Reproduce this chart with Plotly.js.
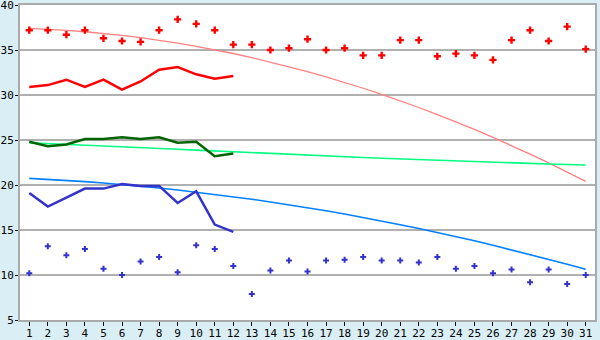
<!DOCTYPE html>
<html>
<head>
<meta charset="utf-8">
<script src="https://cdn.plot.ly/plotly-3.0.1.min.js"></script>
<style>html,body{margin:0;padding:0;background:#daeef5;}#chart{width:600px;height:340px;}</style>
</head>
<body>
<div id="chart"></div>
<script>
const days = Array.from({length: 31}, (_, i) => i + 1);
const daysMonth = days.slice(0, 12);

const redPoints = [37.2, 37.2, 36.7, 37.2, 36.3, 36.0, 35.9, 37.2, 38.4, 37.9, 37.2, 35.6, 35.6, 35.0, 35.2, 36.2, 35.0, 35.2, 34.4, 34.4, 36.1, 36.1, 34.3, 34.6, 34.4, 33.9, 36.1, 37.2, 36.0, 37.6, 35.1];
const redLine = [30.9, 31.1, 31.7, 30.9, 31.7, 30.6, 31.5, 32.8, 33.1, 32.3, 31.8, 32.1];
const redTrend = [37.40, 37.31, 37.19, 37.03, 36.84, 36.63, 36.37, 36.08, 35.76, 35.41, 35.02, 34.61, 34.15, 33.66, 33.15, 32.60, 32.01, 31.40, 30.75, 30.07, 29.36, 28.61, 27.82, 27.02, 26.17, 25.29, 24.38, 23.43, 22.45, 21.45, 20.40];

const greenLine = [24.8, 24.3, 24.5, 25.1, 25.1, 25.3, 25.1, 25.3, 24.7, 24.8, 23.2, 23.5];
const greenTrend = [24.70, 24.62, 24.53, 24.45, 24.36, 24.27, 24.18, 24.08, 23.98, 23.88, 23.78, 23.68, 23.59, 23.50, 23.41, 23.32, 23.23, 23.14, 23.05, 22.97, 22.89, 22.81, 22.74, 22.67, 22.60, 22.53, 22.46, 22.40, 22.34, 22.28, 22.22];

const blueLine = [19.1, 17.6, 18.6, 19.6, 19.6, 20.1, 19.9, 19.9, 18.0, 19.3, 15.6, 14.8];
const blueTrend = [20.74, 20.64, 20.51, 20.37, 20.22, 20.05, 19.86, 19.67, 19.45, 19.21, 18.97, 18.70, 18.42, 18.12, 17.81, 17.48, 17.13, 16.78, 16.40, 16.00, 15.59, 15.17, 14.73, 14.27, 13.80, 13.31, 12.80, 12.29, 11.75, 11.20, 10.63];
const bluePoints = [10.2, 13.2, 12.2, 12.9, 10.7, 10.0, 11.5, 12.0, 10.3, 13.3, 12.9, 11.0, 7.9, 10.5, 11.6, 10.4, 11.6, 11.7, 12.0, 11.6, 11.6, 11.4, 12.0, 10.7, 11.0, 10.2, 10.6, 9.2, 10.6, 9.0, 10.0];

const yTicks = [5, 10, 15, 20, 25, 30, 35, 40];

const traces = [
  {x: days, y: redTrend, mode: 'lines', line: {color: '#ff8080', width: 1.3}},
  {x: days, y: greenTrend, mode: 'lines', line: {color: '#00ff80', width: 1.6}},
  {x: days, y: blueTrend, mode: 'lines', line: {color: '#0080ff', width: 1.6}},
  {x: daysMonth, y: redLine, mode: 'lines', line: {color: '#ff0000', width: 2.5}},
  {x: daysMonth, y: greenLine, mode: 'lines', line: {color: '#006400', width: 2.5}},
  {x: daysMonth, y: blueLine, mode: 'lines', line: {color: '#3333cc', width: 2.5}},
  {x: days, y: redPoints, mode: 'markers', marker: {symbol: 'cross', size: 6, color: '#ff0000'}},
  {x: days, y: bluePoints, mode: 'markers', marker: {symbol: 'cross', size: 5, color: '#3333cc'}}
];

const layout = {
  width: 600, height: 340,
  margin: {l: 20, r: 5, t: 5, b: 20},
  paper_bgcolor: '#daeef5',
  plot_bgcolor: '#ffffff',
  showlegend: false,
  font: {family: 'DejaVu Sans Mono, monospace', size: 11, color: '#000000'},
  xaxis: {
    range: [0.5, 31.5], tickmode: 'array', tickvals: days, ticktext: days.map(String),
    showgrid: false, zeroline: false,
    showline: true, linecolor: '#aaaaaa', linewidth: 2, mirror: true,
    ticks: 'outside', ticklen: 4, tickcolor: '#000000', tickwidth: 1,
    ticklabelstandoff: -2, ticklabeloverflow: 'allow'
  },
  yaxis: {
    range: [5, 40], tickmode: 'array', tickvals: yTicks,
    showgrid: true, gridcolor: '#b0b0b0', gridwidth: 1.5, zeroline: false,
    showline: true, linecolor: '#aaaaaa', linewidth: 2, mirror: true,
    ticks: 'outside', ticklen: 3, tickcolor: '#000000', tickwidth: 1,
    ticklabelstandoff: -1, ticklabeloverflow: 'allow'
  }
};

Plotly.newPlot('chart', traces, layout, {staticPlot: true, displayModeBar: false});
</script>
</body>
</html>
